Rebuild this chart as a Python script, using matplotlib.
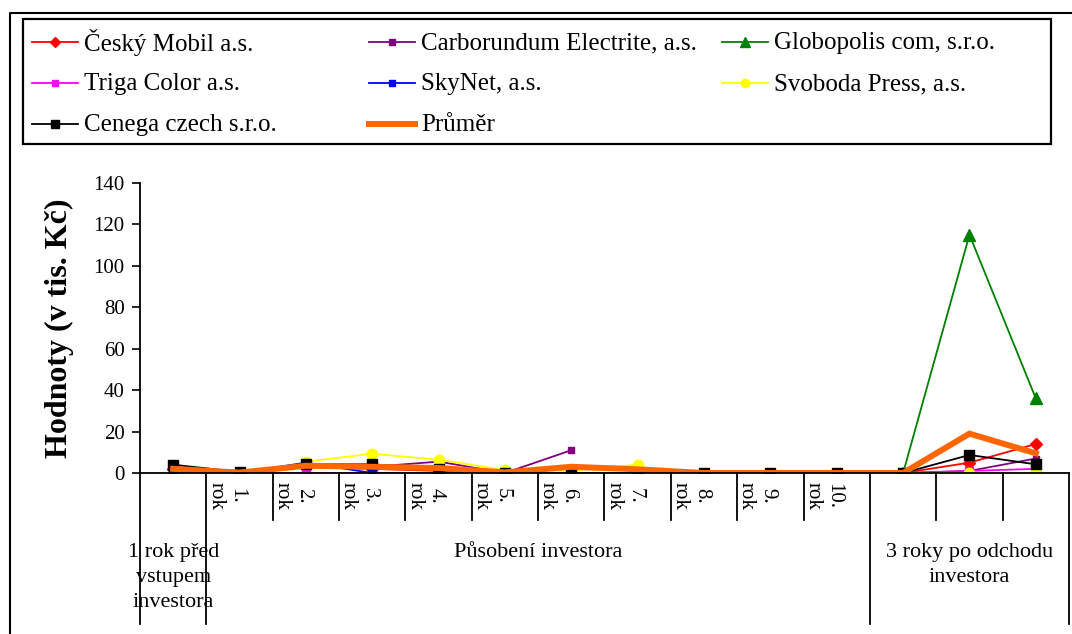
import numpy as np
import matplotlib
matplotlib.use("Agg")
import matplotlib.pyplot as plt
from matplotlib.patches import Rectangle

plt.rcParams['font.family'] = ['Liberation Serif', 'DejaVu Serif']

nan = np.nan
# kategorie (14 bodů)
roky_lbl = ['', '1.\nrok', '2.\nrok', '3.\nrok', '4.\nrok', '5.\nrok', '6.\nrok',
            '7.\nrok', '8.\nrok', '9.\nrok', '10.\nrok', '', '', '']
skupiny = ['1 rok před\nvstupem\ninvestora', 'Působení investora', '3 roky po odchodu\ninvestora']
skupiny_od_do = [(0, 0), (1, 10), (11, 13)]

cesky_mobil = [2, 0, 3, 2, 1, 0, nan, nan, nan, nan, nan, 0, 5, 14]
carborundum = [2, 0, 3, 3, 5.5, 0, 11, nan, nan, nan, nan, 0, 1, 7]
globopolis = [nan, nan, nan, nan, nan, nan, nan, nan, nan, nan, nan, 0, 115, 36]
triga = [1, 0, 0, 0, 0, 0, nan, nan, nan, nan, nan, 0, 1, 2]
skynet = [0, 0, 5, 0, 0, 0, 0, nan, nan, nan, nan, 0, 0, 0]
svoboda = [nan, nan, 5.5, 9.3, 6.4, 1.5, 1, 4, nan, nan, nan, 0, 0, 0]
cenega = [4, 0.5, 4.2, 4.2, 2, 0, 0, 0, 0, 0, 0, 0, 8.7, 4.2]
prumer = [2, 0.2, 3.5, 3, 2.4, 0.3, 3, 1.8, 0, 0, 0, 0, 19, 9.5]

serie = [
    ('Český Mobil a.s.', cesky_mobil, '#FF0000', 'D', 6.5),
    ('Carborundum Electrite, a.s.', carborundum, '#800080', 's', 5),
    ('Globopolis com, s.r.o.', globopolis, '#008000', '^', 8.5),
    ('Triga Color a.s.', triga, '#FF00FF', 's', 6),
    ('SkyNet, a.s.', skynet, '#0000FF', 's', 6),
    ('Svoboda Press, a.s.', svoboda, '#FFFF00', 'o', 7.5),
    ('Cenega czech s.r.o.', cenega, '#000000', 's', 6.5),
]

W, H = 1072, 634
fig = plt.figure(figsize=(W / 100, H / 100), dpi=100)

# hlavní graf
ax = fig.add_axes([140 / W, (H - 473) / H, 929 / W, 290 / H])
x = np.arange(len(roky_lbl))
handles = {}
for name, vals, col, mk, ms in serie:
    ln, = ax.plot(x, vals, color=col, lw=1.3, marker=mk, ms=ms, mfc=col, mec=col, label=name)
    handles[name] = ln
ln, = ax.plot(x, prumer, color='#FF6600', lw=4.3, label='Průměr', solid_joinstyle='miter')
handles['Průměr'] = ln

ax.set_xlim(-0.5, len(x) - 0.5)
ax.set_ylim(0, 140)
ax.set_yticks(np.arange(0, 141, 20))
ax.tick_params(axis='y', labelsize=15, length=6, width=1.2, pad=5)
ax.set_xticks([])
for s in ['top', 'right']:
    ax.spines[s].set_visible(False)
ax.spines['left'].set_linewidth(1.3)
ax.spines['bottom'].set_linewidth(1.3)
ax.set_ylabel('Hodnoty (v tis. Kč)', fontsize=23, fontweight='bold', labelpad=14)

# víceúrovňová osa x
tr = ax.get_xaxis_transform()
dlouhe = [-0.5, 0.5, 10.5, 13.5]
for b in np.arange(-0.5, len(x), 1.0):
    y_end = -0.52 if b in dlouhe else -0.163
    ax.plot([b, b], [0, y_end], color='black', lw=1.3, transform=tr, clip_on=False)
for i, t in enumerate(roky_lbl):
    if t:
        ax.text(i - 0.2, -0.03, t, transform=tr, rotation=-90, ha='center', va='top',
                fontsize=15, linespacing=1.15)
for t, (a, b) in zip(skupiny, skupiny_od_do):
    ax.text((a + b) / 2, -0.24, t, transform=tr, ha='center', va='top',
            fontsize=16, linespacing=1.45)

# rámeček a legenda v pixelech
ov = fig.add_axes([0, 0, 1, 1], zorder=-1)
ov.set_xlim(0, W)
ov.set_ylim(H, 0)
ov.axis('off')
ov.plot([9.5, 9.5, W + 5], [H + 5, 13, 13], color='black', lw=1.5)

lg = fig.add_axes([0, 0, 1, 1])
lg.set_xlim(0, W)
lg.set_ylim(H, 0)
lg.axis('off')
lg.add_patch(Rectangle((22.5, 18.5), 1028, 125.5, fill=False, ec='black', lw=1.6))
poradi = [['Český Mobil a.s.', 'Carborundum Electrite, a.s.', 'Globopolis com, s.r.o.'],
          ['Triga Color a.s.', 'SkyNet, a.s.', 'Svoboda Press, a.s.'],
          ['Cenega czech s.r.o.', 'Průměr']]
sloupce = [32, 369, 722]
radky = [42, 83, 124]
for r, row in enumerate(poradi):
    for c, name in enumerate(row):
        h = handles[name]
        x0 = sloupce[c]
        yy = radky[r]
        lg.plot([x0, x0 + 46], [yy, yy], color=h.get_color(), lw=h.get_linewidth())
        if h.get_marker() not in (None, 'None', ''):
            lg.plot([x0 + 23], [yy], marker=h.get_marker(), ms=h.get_markersize() * 0.8,
                    color=h.get_color(), ls='none')
        lg.text(x0 + 52, yy + 1, name, fontsize=18, va='center', ha='left')

fig.savefig('out.png', dpi=100)
